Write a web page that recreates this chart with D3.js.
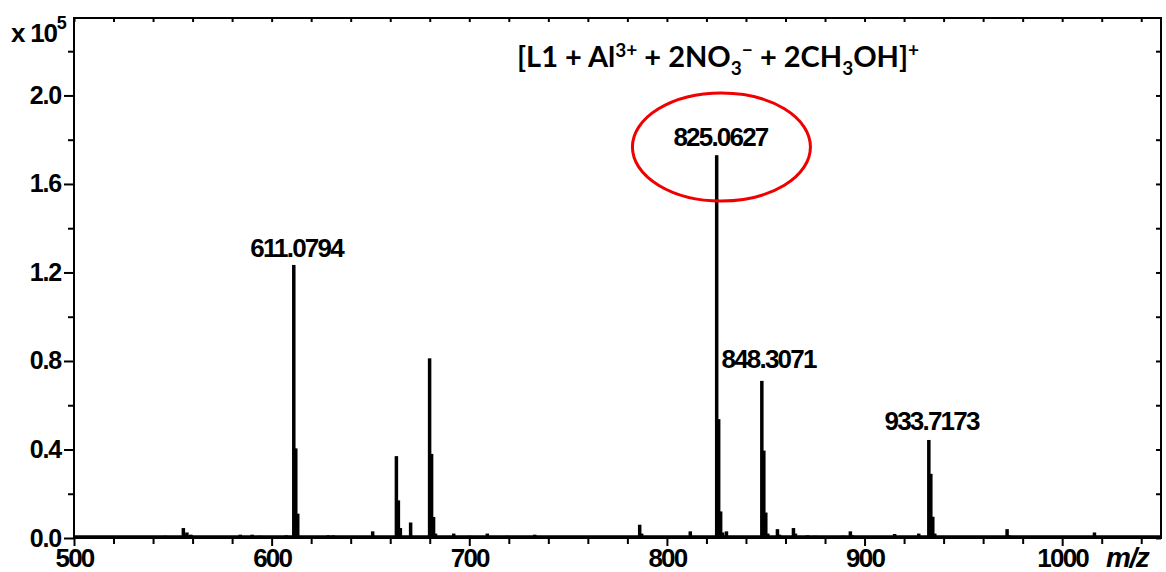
<!DOCTYPE html>
<html>
<head>
<meta charset="utf-8">
<script src="https://cdn.jsdelivr.net/npm/d3@7"></script>
<style>
  body { margin: 0; background: #fff; }
  svg { display: block; }
  .tick text { font-family: "Liberation Sans", Arial, sans-serif; font-weight: bold; }
</style>
</head>
<body>
<div id="chart"></div>
<script>
// m/z sticks (intensity in units of 1e5)
var peakMz  = [546, 548, 555.2, 557, 559, 584, 590, 594, 607.3,
               611.08, 612.08, 613.08, 628.5, 631, 651,
               663, 664, 665, 670.2, 679.8, 680.8, 681.8, 682.8,
               692, 700, 709, 719, 733, 782, 786.1, 787.1, 811.7,
               825.06, 826.06, 827.06, 828.06, 830,
               847.9, 848.9, 849.9, 850.9, 855.8, 856.8, 863.9, 864.9, 871, 875,
               889, 892.7, 893.7, 915.1, 927.3,
               932.4, 933.4, 934.4, 935.4, 945, 972, 973, 1016.2, 1017.2];
var peakInt = [0.01, 0.008, 0.045, 0.025, 0.015, 0.015, 0.015, 0.01, 0.012,
               1.234, 0.405, 0.11, 0.012, 0.012, 0.03,
               0.37, 0.17, 0.045, 0.07, 0.812, 0.38, 0.095, 0.02,
               0.02, 0.01, 0.02, 0.01, 0.015, 0.006, 0.06, 0.02, 0.03,
               1.73, 0.537, 0.12, 0.025, 0.03,
               0.71, 0.395, 0.115, 0.02, 0.04, 0.015, 0.045, 0.02, 0.012, 0.01,
               0.01, 0.03, 0.012, 0.018, 0.02,
               0.443, 0.29, 0.096, 0.02, 0.008, 0.04, 0.012, 0.025, 0.008];

// labelled peaks
var labelText = ["611.0794", "825.0627", "848.3071", "933.7173"];
var labelMz   = [611.08, 825.06, 847.9, 932.4];
var labelInt  = [1.234, 1.73, 0.71, 0.443];

var xMajor = [500, 600, 700, 800, 900, 1000];
var yMajor = [0.0, 0.4, 0.8, 1.2, 1.6, 2.0];

var W = 1166, H = 572;
var pL = 74, pT = 18, pR = 1161, pB = 538;

var svg = d3.select("#chart").append("svg")
  .attr("width", W).attr("height", H);

var x = d3.scaleLinear().domain([500, 1050]).range([pL, pR]);
var y = d3.scaleLinear().domain([0, 2.35]).range([pB, pT]);

var xMinor = d3.range(500, 1050, 20).filter(function(d) { return xMajor.indexOf(d) < 0; });
var yMinor = d3.range(0.2, 2.35, 0.4);

// baseline of the trace
svg.append("line")
  .attr("x1", x(500)).attr("x2", x(1050))
  .attr("y1", y(0) - 1.5).attr("y2", y(0) - 1.5)
  .attr("stroke", "#000").attr("stroke-width", 2.5);

// sticks
svg.selectAll("rect.peak")
  .data(peakMz)
  .enter()
  .append("rect")
    .attr("class", "peak")
    .attr("x", function(d) { return x(d) - 1.5; })
    .attr("width", 3.5)
    .attr("y", function(d, i) { return y(peakInt[i]); })
    .attr("height", function(d, i) { return y(0) - y(peakInt[i]); })
    .attr("fill", "#000");

// axes
function styleAxis(g) {
  g.select(".domain").remove();
  g.selectAll(".tick line").attr("stroke", "#000").attr("stroke-width", 2);
}

svg.append("g")
  .attr("transform", "translate(0," + pB + ")")
  .call(d3.axisBottom(x).tickValues(xMajor).tickSize(8).tickPadding(3)
        .tickFormat(d3.format("d")))
  .call(styleAxis)
  .selectAll("text")
    .attr("fill", "#000")
    .style("font-size", "26px")
    .style("letter-spacing", "-1.8px");

svg.append("g")
  .attr("transform", "translate(0," + pB + ")")
  .call(d3.axisBottom(x).tickValues(xMinor).tickSize(6).tickFormat(""))
  .call(styleAxis);

svg.append("g")
  .attr("transform", "translate(" + pL + ",0)")
  .call(d3.axisLeft(y).tickValues(yMajor).tickSize(10).tickPadding(3)
        .tickFormat(d3.format(".1f")))
  .call(styleAxis)
  .selectAll("text")
    .attr("fill", "#000")
    .style("font-size", "25px")
    .style("letter-spacing", "-1.2px");

svg.append("g")
  .attr("transform", "translate(" + pL + ",0)")
  .call(d3.axisLeft(y).tickValues(yMinor).tickSize(6).tickFormat(""))
  .call(styleAxis);

// mirrored inner ticks on top and right
svg.append("g")
  .attr("transform", "translate(0," + pT + ")")
  .call(d3.axisBottom(x).tickValues(d3.range(500, 1050, 20)).tickSize(4).tickFormat(""))
  .call(styleAxis);

svg.append("g")
  .attr("transform", "translate(" + pR + ",0)")
  .call(d3.axisLeft(y).tickValues(d3.range(0, 2.35, 0.2)).tickSize(5).tickFormat(""))
  .call(styleAxis);

// frame
svg.append("rect")
  .attr("x", pL).attr("y", pT)
  .attr("width", pR - pL).attr("height", pB - pT)
  .attr("fill", "none").attr("stroke", "#000").attr("stroke-width", 2);

// x 10^5
var mult = svg.append("text")
  .attr("x", 11).attr("y", 42)
  .style("font-family", "Liberation Sans, Arial, sans-serif")
  .style("font-weight", "bold").style("font-size", "26px")
  .style("letter-spacing", "-1.2px")
  .text("x 10");
mult.append("tspan").attr("dy", -13).style("font-size", "18px").text("5");

// m/z
svg.append("text")
  .attr("x", 1106).attr("y", 567)
  .style("font-family", "Liberation Sans, Arial, sans-serif")
  .style("font-weight", "bold").style("font-style", "italic")
  .style("font-size", "28px").style("letter-spacing", "-1.5px")
  .text("m/z");

// peak labels
var labelDx = [3, 4, 7, 3];
var labelDy = [-8, -9, -13, -10];
svg.selectAll("text.plab")
  .data(labelText)
  .enter()
  .append("text")
    .attr("class", "plab")
    .attr("x", function(d, i) { return x(labelMz[i]) + labelDx[i]; })
    .attr("y", function(d, i) { return y(labelInt[i]) + labelDy[i]; })
    .attr("text-anchor", "middle")
    .style("font-family", "Liberation Sans, Arial, sans-serif")
    .style("font-weight", "bold").style("font-size", "26px")
    .style("letter-spacing", "-1.8px")
    .text(function(d) { return d; });

// red ellipse around the 825 peak label
svg.append("ellipse")
  .attr("cx", x(825.06) + 5).attr("cy", 147)
  .attr("rx", 89).attr("ry", 54)
  .attr("fill", "none").attr("stroke", "#f00000").attr("stroke-width", 3);

// formula title
var title = svg.append("text")
  .attr("x", 517).attr("y", 67)
  .style("font-family", "Lato, 'Open Sans', sans-serif")
  .style("font-weight", "bold").style("font-size", "29px");
title.append("tspan").text("[L1 + Al");
title.append("tspan").attr("dy", -10).style("font-size", "19px").text("3+");
title.append("tspan").attr("dy", 10).text(" + 2NO");
title.append("tspan").attr("dy", 8).style("font-size", "19px").text("3");
title.append("tspan").attr("dy", -18).style("font-size", "19px").text("\u2212");
title.append("tspan").attr("dy", 10).text(" + 2CH");
title.append("tspan").attr("dy", 8).style("font-size", "19px").text("3");
title.append("tspan").attr("dy", -8).text("OH]");
title.append("tspan").attr("dy", -10).style("font-size", "19px").text("+");
</script>
</body>
</html>
